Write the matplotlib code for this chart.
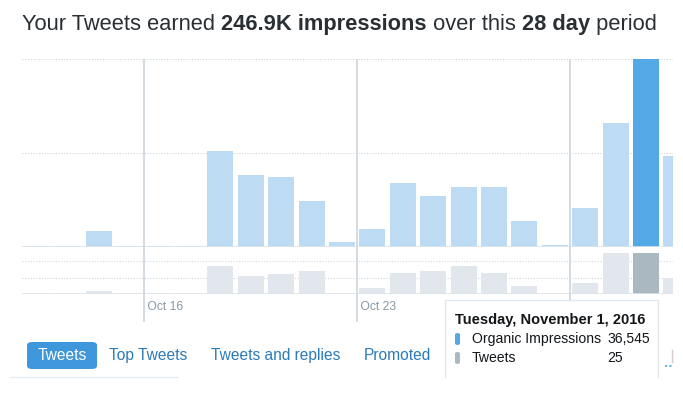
import matplotlib
matplotlib.use("Agg")
import matplotlib.pyplot as plt
from matplotlib.patches import FancyBboxPatch, Rectangle
from matplotlib.lines import Line2D
import datetime as dt

# ---------------- data ----------------
start_date = dt.date(2016, 10, 12)
impressions = [200, 200, 3100, 200, 200, 200, 18700, 14000, 13600, 8900, 900,
               3500, 12400, 9900, 11700, 11700, 5000, 400, 7500, 24200, 36545, 17600]
tweets = [1, 1, 2, 1, 1, 1, 17, 11, 12, 14, 1,
          4, 13, 14, 17, 13, 5, 1, 7, 25, 25, 10]
highlight_index = 20
dates = [start_date + dt.timedelta(days=i) for i in range(len(impressions))]
title_parts = [("Your Tweets earned ", "normal"), ("246.9K impressions", "bold"),
               (" over this ", "normal"), ("28 day", "bold"), (" period", "normal")]
tooltip_title = "Tuesday, November 1, 2016"
tooltip_rows = [("Organic Impressions", "36,545"), ("Tweets", "25")]
tabs = ["Tweets", "Top Tweets", "Tweets and replies", "Promoted"]

# ---------------- style ----------------
W, H = 683, 397
FONT = "Liberation Sans"
plt.rcParams['font.family'] = [FONT, 'DejaVu Sans']
C_BLUE_L = "#BDDCF3"
C_BLUE = "#55A8E6"
C_GRAY_L = "#E1E7EC"
C_GRAY = "#AAB8C2"
C_GRID = "#CFD8DE"
C_BASE = "#DDE4EA"
C_WEEK = "#CCD6DD"
C_TICK = "#8899A6"
C_TITLE = "#292F33"
C_LINK = "#2B7BB9"

fig = plt.figure(figsize=(W / 100, H / 100), dpi=100)
fig.patch.set_facecolor("white")


def fx(px):
    return px / W


def fy(py):
    return 1 - py / H


def px_axes(left, top, right, bottom, **kw):
    return fig.add_axes([fx(left), fy(bottom), fx(right - left), (bottom - top) / H], **kw)


X_LEFT, X_RIGHT = 22, 673
# x range in data units: first bar centre at pixel 38, step 30.4 px
x0 = -0.526
x1 = x0 + (X_RIGHT - X_LEFT) / 30.4
n = len(impressions)
xs = list(range(n))
bw = 0.85

# ---- impressions panel ----
ax1 = px_axes(X_LEFT, 59, X_RIGHT, 247)
ymax1 = max(impressions)
cols1 = [C_BLUE if i == highlight_index else C_BLUE_L for i in xs]
ax1.bar(xs, impressions, width=bw, color=cols1, zorder=2)
ax1.set_xlim(x0, x1)
ax1.set_ylim(0, ymax1)
ax1.set_yticks([ymax1 / 2, ymax1])
ax1.grid(axis="y", color=C_GRID, linestyle=(0, (1, 1.5)), linewidth=0.8, zorder=0)
ax1.axhline(0, color=C_BASE, linewidth=1.2, zorder=3)

# ---- tweets panel ----
ax2 = px_axes(X_LEFT, 250, X_RIGHT, 294.3)
cols2 = [C_GRAY if i == highlight_index else C_GRAY_L for i in xs]
ax2.bar(xs, tweets, width=bw, color=cols2, zorder=2)
ax2.set_xlim(x0, x1)
ax2.set_ylim(0, 26.6)
ax2.set_yticks([10, 20])
ax2.grid(axis="y", color=C_GRID, linestyle=(0, (1, 1.5)), linewidth=0.8, zorder=0)
ax2.axhline(0, color=C_BASE, linewidth=1.2, zorder=3)

for ax in (ax1, ax2):
    ax.set_facecolor("none")
    for s in ax.spines.values():
        s.set_visible(False)
    ax.tick_params(left=False, bottom=False, labelleft=False, labelbottom=False)
    ax.set_xticks([])

# ---- week lines + date labels ----
ax3 = px_axes(X_LEFT, 59, X_RIGHT, 322)
ax3.set_xlim(x0, x1)
ax3.set_ylim(0, 1)
ax3.axis("off")
ax3.patch.set_visible(False)
for i, d in enumerate(dates):
    if d.weekday() == 6:  # Sunday
        ax3.axvline(i - 0.5, color=C_WEEK, linewidth=1.2, zorder=1)
        ax3.text(i - 0.5, 1 - (306.5 - 59) / (322 - 59), " " + d.strftime("%b ") + str(d.day),
                 color=C_TICK, fontsize=8.7, ha="left", va="center", zorder=1)

# ---- title ----
renderer = fig.canvas.get_renderer()
xcur = 22
for txt, wt in title_parts:
    t = fig.text(fx(xcur), fy(30), txt, fontsize=15.75, fontweight=wt, color=C_TITLE,
                 ha="left", va="baseline")
    bb = t.get_window_extent(renderer)
    xcur += bb.width

# ---- tabs ----
tab_x = [27, 109, 211, 364]
btn = FancyBboxPatch((fx(27), fy(369)), fx(70), (369 - 342) / H,
                     boxstyle="round,pad=0,rounding_size=0.008",
                     transform=fig.transFigure, facecolor="#3E97DA", edgecolor="none")
fig.patches.append(btn)
for i, (lab, x) in enumerate(zip(tabs, tab_x)):
    if i == 0:
        fig.text(fx(62), fy(355.5), lab, fontsize=11.2, color="white", ha="center", va="center")
    else:
        fig.text(fx(x), fy(355.5), lab, fontsize=11.2, color=C_LINK, ha="left", va="center")
fig.lines.append(Line2D([fx(10), fx(178)], [fy(377), fy(377)], color="#E6ECF0",
                        linewidth=1.0, transform=fig.transFigure))
# small cut-off elements at right edge
fig.lines.append(Line2D([fx(672), fx(672)], [fy(350), fy(362)], color="#D8C8D0",
                        linewidth=1.0, transform=fig.transFigure))
fig.lines.append(Line2D([fx(665), fx(673)], [fy(366), fy(366)], color="#4A9FE0",
                        linewidth=1.2, linestyle=(0, (1.2, 1.5)), transform=fig.transFigure))

# ---- tooltip ----
tip = Rectangle((fx(445), fy(377)), fx(658 - 445), (377 - 299.5) / H, transform=fig.transFigure,
                facecolor="white", edgecolor="none", zorder=10)
fig.patches.append(tip)
fig.lines.append(Line2D([fx(445), fx(445), fx(658), fx(658)],
                        [fy(377), fy(299.5), fy(299.5), fy(377)], color="#E1E8ED",
                        linewidth=1.0, transform=fig.transFigure, zorder=10.5))
fig.text(fx(455), fy(320), tooltip_title, fontsize=10.5, fontweight="bold", color="#14171A",
         ha="left", va="center", zorder=11)
row_y = [339, 358]
mark_cols = [C_BLUE, C_GRAY]
for (lab, val), y, mc in zip(tooltip_rows, row_y, mark_cols):
    m = FancyBboxPatch((fx(455), fy(y + 6)), fx(5), 12 / H,
                       boxstyle="round,pad=0,rounding_size=0.004",
                       transform=fig.transFigure, facecolor=mc, edgecolor="none", zorder=11)
    fig.patches.append(m)
    fig.text(fx(472), fy(y), lab, fontsize=10.1, color="#14171A", ha="left", va="center", zorder=11)
    fig.text(fx(607), fy(y), val, fontsize=10.1, color="#14171A", ha="left", va="center", zorder=11)

fig.savefig("out.png", dpi=100, facecolor="white")
